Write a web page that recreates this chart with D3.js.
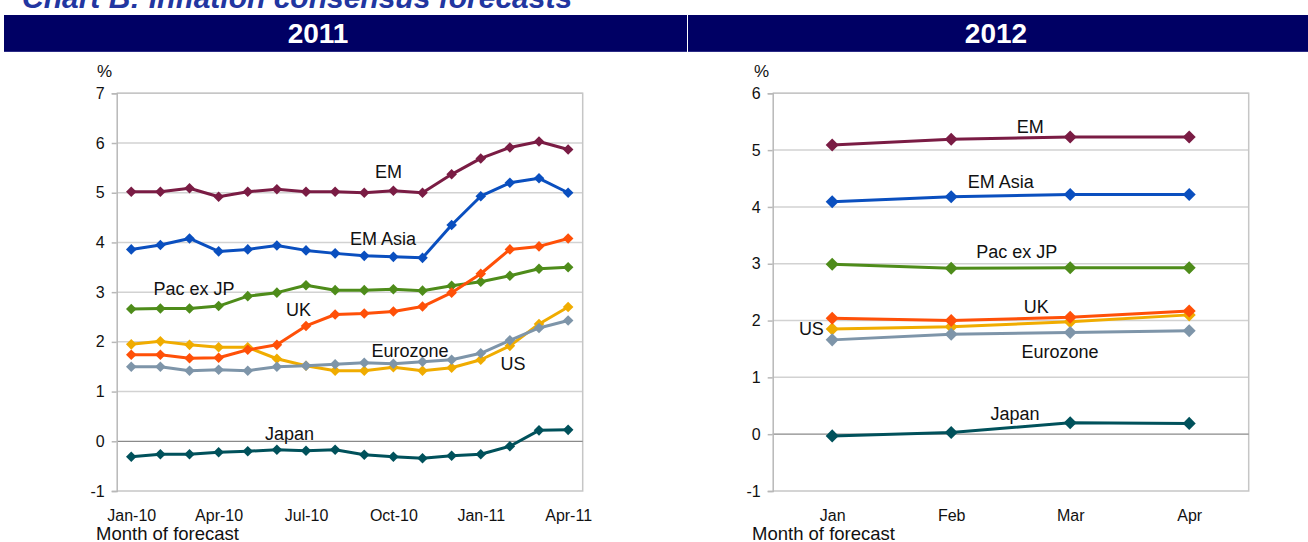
<!DOCTYPE html>
<html>
<head>
<meta charset="utf-8">
<script src="https://cdn.jsdelivr.net/npm/d3@7"></script>
<style>
  html, body { margin: 0; padding: 0; background: #fff; }
  svg { display: block; font-family: "Liberation Sans", Arial, sans-serif; }
</style>
</head>
<body>
<div id="chart"></div>
<script>
// ---- data ----
var months2011 = ['Jan-10','Feb-10','Mar-10','Apr-10','May-10','Jun-10','Jul-10','Aug-10',
                  'Sep-10','Oct-10','Nov-10','Dec-10','Jan-11','Feb-11','Mar-11','Apr-11'];
var ticks2011 = ['Jan-10','Apr-10','Jul-10','Oct-10','Jan-11','Apr-11'];
var months2012 = ['Jan','Feb','Mar','Apr'];

var seriesNames = ['EM','EM Asia','Pac ex JP','US','Eurozone','UK','Japan'];

var em2011       = [5.02,5.02,5.09,4.92,5.02,5.07,5.02,5.02,5.00,5.04,5.00,5.37,5.69,5.91,6.03,5.87];
var emAsia2011   = [3.86,3.95,4.08,3.82,3.86,3.94,3.84,3.78,3.73,3.71,3.69,4.35,4.93,5.20,5.29,5.00];
var pacExJp2011  = [2.66,2.67,2.67,2.72,2.92,2.99,3.14,3.04,3.04,3.06,3.03,3.13,3.21,3.33,3.47,3.50];
var us2011       = [1.95,2.01,1.94,1.89,1.89,1.66,1.52,1.42,1.42,1.49,1.42,1.48,1.64,1.92,2.36,2.70];
var eurozone2011 = [1.50,1.50,1.42,1.44,1.42,1.50,1.52,1.55,1.58,1.56,1.60,1.64,1.77,2.03,2.28,2.43];
var uk2011       = [1.74,1.74,1.67,1.68,1.84,1.94,2.32,2.55,2.57,2.61,2.71,2.99,3.37,3.86,3.92,4.08];
var japan2011    = [-0.31,-0.26,-0.26,-0.22,-0.20,-0.17,-0.19,-0.17,-0.27,-0.31,-0.34,-0.29,-0.26,-0.10,0.22,0.23];

var em2012       = [5.09,5.19,5.23,5.23];
var emAsia2012   = [4.09,4.18,4.22,4.22];
var pacExJp2012  = [2.99,2.92,2.93,2.93];
var us2012       = [1.85,1.89,1.98,2.10];
var eurozone2012 = [1.66,1.76,1.79,1.82];
var uk2012       = [2.04,2.00,2.06,2.17];
var japan2012    = [-0.03,0.03,0.20,0.19];

var yTicks2011 = [-1,0,1,2,3,4,5,6,7];
var yTicks2012 = [-1,0,1,2,3,4,5,6];

// ---- styling ----
var colors = {
    'EM': '#7a1c44', 'EM Asia': '#0a4fbf', 'Pac ex JP': '#4e8c1a',
    'US': '#f0ac00', 'Eurozone': '#7e95a9', 'UK': '#ff5008', 'Japan': '#00515b'
};

var W = 1308, H = 542;
var svg = d3.select('#chart').append('svg').attr('width', W).attr('height', H);

// title (cut off at the top in the original)
svg.append('text')
    .attr('x', 22).attr('y', 8)
    .attr('font-size', 30).attr('font-weight', 'bold').attr('font-style', 'italic')
    .attr('fill', '#2236a0')
    .text('Chart B: Inflation consensus forecasts');

// header bars
var bars = [{x: 4, w: 683, label: '2011', cx: 318}, {x: 688, w: 620, label: '2012', cx: 996}];
bars.forEach(function(b){
    svg.append('rect').attr('x', b.x).attr('y', 15).attr('width', b.w).attr('height', 37).attr('fill', '#000064');
    svg.append('line').attr('x1', b.x).attr('x2', b.x + b.w).attr('y1', 51.5).attr('y2', 51.5)
        .attr('stroke', '#2b2b85').attr('stroke-width', 1);
    svg.append('text').attr('x', b.cx).attr('y', 43).attr('text-anchor', 'middle')
        .attr('font-size', 28).attr('font-weight', 'bold').attr('fill', '#fff').text(b.label);
});

function drawPanel(cfg){
    var x = d3.scalePoint().domain(cfg.categories).range([cfg.x0, cfg.x1]).padding(0.5);
    // fractional-index helper for the in-chart labels
    var xi = d3.scaleLinear().domain([0, cfg.categories.length - 1])
        .range([x(cfg.categories[0]), x(cfg.categories[cfg.categories.length - 1])]);
    var y = d3.scaleLinear().domain(cfg.yDomain).range([cfg.yBot, cfg.yTop]);

    var g = svg.append('g');

    // gridlines
    g.selectAll('line.grid').data(cfg.yTicks.filter(function(t){ return t !== 0 && t !== cfg.yDomain[0]; }))
        .enter().append('line').attr('class', 'grid')
        .attr('x1', cfg.x0).attr('x2', cfg.x1)
        .attr('y1', function(d){ return y(d); }).attr('y2', function(d){ return y(d); })
        .attr('stroke', '#d2d2d2').attr('stroke-width', 1.5);

    // frame: top, right, bottom
    g.append('path')
        .attr('d', 'M' + cfg.x0 + ',' + y(cfg.yDomain[1]) + 'H' + cfg.x1 + 'V' + y(cfg.yDomain[0]) + 'H' + cfg.x0)
        .attr('fill', 'none').attr('stroke', '#c6c6c6').attr('stroke-width', 1.5);
    // zero line
    g.append('line').attr('x1', cfg.x0).attr('x2', cfg.x1).attr('y1', y(0)).attr('y2', y(0))
        .attr('stroke', '#8a8a8a').attr('stroke-width', 1.2);

    // y axis
    var yAxis = g.append('g').attr('transform', 'translate(' + cfg.x0 + ',0)')
        .call(d3.axisLeft(y).tickValues(cfg.yTicks).tickSize(5).tickPadding(7)
            .tickFormat(function(d){ return String(d); }));
    yAxis.select('.domain').attr('stroke', '#b8b8b8').attr('stroke-width', 1.5);
    yAxis.selectAll('.tick line').attr('stroke', '#b8b8b8').attr('stroke-width', 1.5);
    yAxis.selectAll('.tick text').attr('font-size', 16).attr('fill', '#111')
        .attr('font-family', '"Liberation Sans", Arial, sans-serif');

    // x axis
    var xAxis = g.append('g').attr('transform', 'translate(0,' + cfg.yBot + ')')
        .call(d3.axisBottom(x).tickValues(cfg.xTicks).tickSize(0).tickPadding(18.5));
    xAxis.select('.domain').remove();
    xAxis.selectAll('.tick text').attr('font-size', 16).attr('fill', '#111')
        .attr('font-family', '"Liberation Sans", Arial, sans-serif');

    // '%' and axis title
    g.append('text').attr('x', cfg.pctX).attr('y', 77).attr('font-size', 17).attr('fill', '#111').text('%');
    g.append('text').attr('x', cfg.titleX).attr('y', 540).attr('font-size', 18.5).attr('fill', '#111')
        .text('Month of forecast');

    var line = d3.line()
        .x(function(d, i){ return x(cfg.categories[i]); })
        .y(function(d){ return y(d); });
    var diamond = d3.symbol().type(d3.symbolSquare).size(cfg.markerSize);

    seriesNames.forEach(function(name){
        var vals = cfg.series[name];
        var col = colors[name];
        var s = g.append('g');
        s.append('path').datum(vals).attr('d', line)
            .attr('fill', 'none').attr('stroke', col).attr('stroke-width', 3).attr('stroke-linejoin', 'round');
        s.selectAll('path.pt').data(vals).enter().append('path').attr('class', 'pt')
            .attr('d', diamond)
            .attr('transform', function(d, i){ return 'translate(' + x(cfg.categories[i]) + ',' + y(d) + ') rotate(45)'; })
            .attr('fill', col);
    });

    cfg.labels.forEach(function(l){
        g.append('text').attr('x', xi(l[1])).attr('y', y(l[2]))
            .attr('font-size', 18).attr('fill', '#111').text(l[0]);
    });
}

drawPanel({
    categories: months2011, xTicks: ticks2011, yTicks: yTicks2011, yDomain: [-1, 7],
    x0: 116.7, x1: 582.7, yTop: 93.3, yBot: 491, pctX: 97, titleX: 96, markerSize: 56,
    series: {'EM': em2011, 'EM Asia': emAsia2011, 'Pac ex JP': pacExJp2011, 'US': us2011,
             'Eurozone': eurozone2011, 'UK': uk2011, 'Japan': japan2011},
    labels: [['EM', 8.37, 5.29], ['EM Asia', 7.51, 3.95], ['Pac ex JP', 0.76, 2.94], ['UK', 5.31, 2.52],
             ['Eurozone', 8.25, 1.70], ['US', 12.68, 1.44], ['Japan', 4.59, 0.03]]
});

drawPanel({
    categories: months2012, xTicks: months2012, yTicks: yTicks2012, yDomain: [-1, 6],
    x0: 772.7, x1: 1248.7, yTop: 93.3, yBot: 491, pctX: 754, titleX: 752, markerSize: 85,
    series: {'EM': em2012, 'EM Asia': emAsia2012, 'Pac ex JP': pacExJp2012, 'US': us2012,
             'Eurozone': eurozone2012, 'UK': uk2012, 'Japan': japan2012},
    labels: [['EM', 1.55, 5.31], ['EM Asia', 1.14, 4.33], ['Pac ex JP', 1.21, 3.10], ['UK', 1.61, 2.13],
             ['US', -0.28, 1.75], ['Eurozone', 1.59, 1.34], ['Japan', 1.33, 0.25]]
});
</script>
</body>
</html>
